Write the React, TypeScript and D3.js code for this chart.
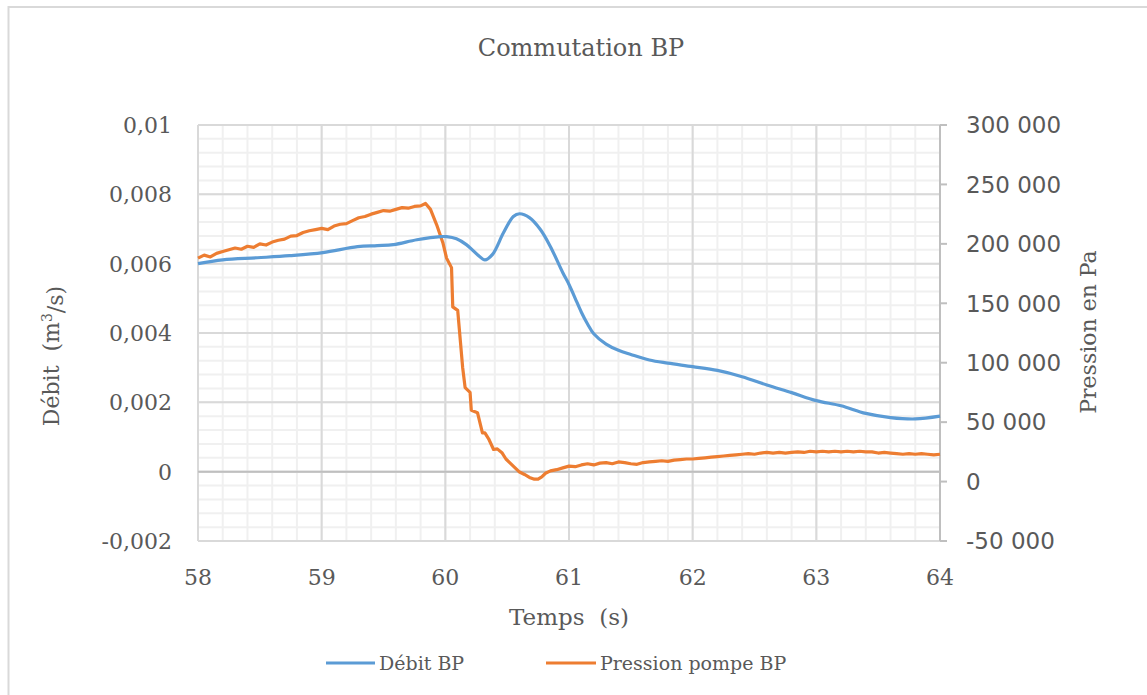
import React from 'react';
import * as d3 from 'd3';

// Débit BP (left axis, m3/s)
const timeDebit = [
  58.0, 58.2, 58.48, 58.74, 59.01, 59.29, 59.45, 59.58, 59.77, 59.96, 60.01, 60.09, 60.17, 60.26,
  60.32, 60.38, 60.47, 60.55, 60.6, 60.68, 60.77, 60.85, 60.95, 61.0, 61.05, 61.1, 61.15, 61.2, 61.3,
  61.4, 61.5, 61.65, 61.8, 62.0, 62.2, 62.4, 62.6, 62.8, 63.0, 63.2, 63.4, 63.6, 63.8, 64.0,
];
const debitBP = [
  0.006, 0.00611, 0.00617, 0.00623, 0.00632, 0.00649, 0.00652, 0.00655, 0.00669, 0.00678, 0.00678,
  0.00672, 0.00655, 0.00626, 0.00611, 0.00626, 0.00689, 0.00736, 0.00744, 0.00733, 0.00698, 0.00649,
  0.00574, 0.0054, 0.005, 0.0046, 0.00426, 0.00398, 0.00368, 0.0035, 0.00338, 0.00322, 0.00313,
  0.00303, 0.00292, 0.00274, 0.0025, 0.00228, 0.00205, 0.0019, 0.00168, 0.00156, 0.00152, 0.0016,
];

// Pression pompe BP (right axis, Pa)
const timePression = [
  58.0, 58.05, 58.1, 58.15, 58.2, 58.25, 58.3, 58.35, 58.4, 58.45, 58.5, 58.55, 58.6, 58.65, 58.7,
  58.75, 58.8, 58.85, 58.9, 58.95, 59.0, 59.05, 59.1, 59.15, 59.2, 59.25, 59.3, 59.35, 59.4, 59.45,
  59.5, 59.55, 59.6, 59.65, 59.7, 59.75, 59.8, 59.84, 59.88, 59.93, 59.98, 60.01, 60.05, 60.06, 60.1,
  60.14, 60.16, 60.2, 60.21, 60.26, 60.3, 60.32, 60.35, 60.39, 60.42, 60.46, 60.49, 60.52, 60.56,
  60.6, 60.64, 60.68, 60.72, 60.75, 60.78, 60.81, 60.85, 60.9, 60.95, 61.0, 61.05, 61.1, 61.15, 61.2,
  61.25, 61.3, 61.35, 61.4, 61.45, 61.5, 61.55, 61.6, 61.65, 61.7, 61.75, 61.8, 61.85, 61.9, 61.95,
  62.0, 62.05, 62.1, 62.15, 62.2, 62.25, 62.3, 62.35, 62.4, 62.45, 62.5, 62.55, 62.6, 62.65, 62.7,
  62.75, 62.8, 62.85, 62.9, 62.95, 63.0, 63.05, 63.1, 63.15, 63.2, 63.25, 63.3, 63.35, 63.4, 63.45,
  63.5, 63.55, 63.6, 63.65, 63.7, 63.75, 63.8, 63.85, 63.9, 63.95, 64.0,
];
const pressionBP = [
  188000, 190500, 189000, 192000, 193500, 195000, 196500, 195500, 198000, 197000, 200000, 199000,
  201500, 203000, 204000, 206500, 207000, 209500, 211000, 212000, 213000, 212000, 215000, 216500,
  217000, 219500, 222000, 223000, 225000, 226500, 228000, 227500, 229000, 230500, 230000, 231500,
  232000, 234000, 229000, 216000, 201000, 188000, 180000, 147000, 144000, 96000, 79000, 75000, 60000,
  58000, 41000, 41000, 36000, 27000, 27500, 24000, 19000, 16000, 12000, 8000, 6000, 3500, 2000, 2000,
  4000, 7000, 9000, 10000, 11500, 13000, 12500, 14000, 15000, 14000, 15500, 16000, 15000, 16500,
  16000, 15000, 14500, 16000, 16500, 17000, 17500, 17000, 18000, 18500, 19000, 19000, 19500, 20000,
  20500, 21000, 21500, 22000, 22500, 23000, 23500, 23000, 24000, 24500, 24000, 24500, 24000, 24500,
  25000, 24500, 25500, 25000, 25500, 25000, 25500, 25000, 25500, 25000, 25500, 25000, 25000, 24000,
  24500, 24000, 23500, 23000, 23500, 23000, 23500, 23000, 22500, 23000, 23000,
];

const xTicks = [58, 59, 60, 61, 62, 63, 64];
const leftTicks = [-0.002, 0, 0.002, 0.004, 0.006, 0.008, 0.01];
const rightTicks = [-50000, 0, 50000, 100000, 150000, 200000, 250000, 300000];

const W = 1147;
const H = 695;
const plot = { left: 198, right: 940, top: 125, bottom: 541 };

const textColor = '#595959';
const serif = '"DejaVu Serif", serif';
const sans = '"DejaVu Sans", sans-serif';
const blue = '#5B9BD5';
const orange = '#ED7D31';

const fmtLeft = (v: number) => String(+v.toFixed(4)).replace('.', ',');
const fmtRight = (v: number) => {
  const s = String(Math.abs(v)).replace(/\B(?=(\d{3})+(?!\d))/g, ' ');
  return (v < 0 ? '-' : '') + s;
};

export default function App() {
  const x = d3.scaleLinear().domain([58, 64]).range([plot.left, plot.right]);
  const yL = d3.scaleLinear().domain([-0.002, 0.01]).range([plot.bottom, plot.top]);
  const yR = d3.scaleLinear().domain([-50000, 300000]).range([plot.bottom, plot.top]);

  const minorX = d3.range(58, 64.0001, 0.2);
  const minorY = d3.range(-0.002, 0.01001, 0.0004);

  const debitLine = d3
    .line<number>()
    .x((_, i) => x(timeDebit[i]))
    .y((d) => yL(d))
    .curve(d3.curveCatmullRom.alpha(0.5));
  const pressionLine = d3
    .line<number>()
    .x((_, i) => x(timePression[i]))
    .y((d) => yR(d));

  return (
    <svg width={W} height={H} style={{ position: 'absolute', left: 0, top: 0, background: '#fff' }}>
      {/* chart border */}
      <rect x={8.5} y={7} width={W + 10} height={H + 10} fill="#fff" stroke="#d9d9d9" strokeWidth={2} />

      <text x={581} y={56} textAnchor="middle" fontFamily={serif} fontSize={24} fill={textColor}>
        Commutation BP
      </text>

      {/* minor grid */}
      {minorX.map((t, i) => (
        <line key={'mx' + i} x1={x(t)} x2={x(t)} y1={plot.top} y2={plot.bottom} stroke="#f0f0f0" strokeWidth={2} />
      ))}
      {minorY.map((v, i) => (
        <line key={'my' + i} x1={plot.left} x2={plot.right} y1={yL(v)} y2={yL(v)} stroke="#f0f0f0" strokeWidth={2} />
      ))}
      {/* major grid */}
      {xTicks.map((t) => (
        <line key={'gx' + t} x1={x(t)} x2={x(t)} y1={plot.top} y2={plot.bottom} stroke="#d9d9d9" strokeWidth={2} />
      ))}
      {leftTicks.map((v) => (
        <line key={'gy' + v} x1={plot.left} x2={plot.right} y1={yL(v)} y2={yL(v)} stroke="#d9d9d9" strokeWidth={2} />
      ))}
      {/* zero axis */}
      <line x1={plot.left} x2={plot.right} y1={yL(0)} y2={yL(0)} stroke="#bfbfbf" strokeWidth={2} />
      {/* right axis */}
      <line x1={plot.right} x2={plot.right} y1={plot.top} y2={plot.bottom} stroke="#bfbfbf" strokeWidth={2} />
      {rightTicks.map((v) => (
        <line key={'rt' + v} x1={plot.right} x2={plot.right + 7} y1={yR(v)} y2={yR(v)} stroke="#bfbfbf" strokeWidth={2} />
      ))}

      {/* series */}
      <path d={pressionLine(pressionBP) || ''} fill="none" stroke={orange} strokeWidth={3.2} strokeLinejoin="round" />
      <path d={debitLine(debitBP) || ''} fill="none" stroke={blue} strokeWidth={3.2} strokeLinejoin="round" />

      {/* left ticks */}
      {leftTicks.map((v) => (
        <text key={'lt' + v} x={172} y={yL(v)} dy="0.36em" textAnchor="end" fontFamily={serif} fontSize={22} fill={textColor}>
          {fmtLeft(v)}
        </text>
      ))}
      {/* right ticks */}
      {rightTicks.map((v) => (
        <text key={'rl' + v} x={966} y={yR(v)} dy="0.36em" textAnchor="start" fontFamily={sans} fontSize={23} fill={textColor}>
          {fmtRight(v)}
        </text>
      ))}
      {/* x ticks */}
      {xTicks.map((t) => (
        <text key={'xl' + t} x={x(t)} y={577} dy="0.36em" textAnchor="middle" fontFamily={serif} fontSize={22} fill={textColor}>
          {t}
        </text>
      ))}

      {/* axis titles */}
      <text x={569} y={617} dy="0.36em" textAnchor="middle" fontFamily={serif} fontSize={23} fill={textColor} style={{ whiteSpace: 'pre' }}>
        {'Temps  (s)'}
      </text>
      <text transform="translate(51,356) rotate(-90)" dy="0.36em" textAnchor="middle" fontFamily={serif} fontSize={22} fill={textColor} style={{ whiteSpace: 'pre' }}>
        {'Débit  (m'}<tspan dy="-0.5em" fontSize={14}>3</tspan><tspan dy="0.5em">/s)</tspan>
      </text>
      <text transform="translate(1088,332) rotate(-90)" dy="0.36em" textAnchor="middle" fontFamily={serif} fontSize={22} fill={textColor}>
        Pression en Pa
      </text>

      {/* legend */}
      <line x1={326} x2={375} y1={663} y2={663} stroke={blue} strokeWidth={3.2} />
      <text x={379} y={663} dy="0.36em" fontFamily={serif} fontSize={19} fill={textColor}>
        Débit BP
      </text>
      <line x1={546} x2={596} y1={663} y2={663} stroke={orange} strokeWidth={3.2} />
      <text x={600} y={663} dy="0.36em" fontFamily={serif} fontSize={19} fill={textColor}>
        Pression pompe BP
      </text>
    </svg>
  );
}
